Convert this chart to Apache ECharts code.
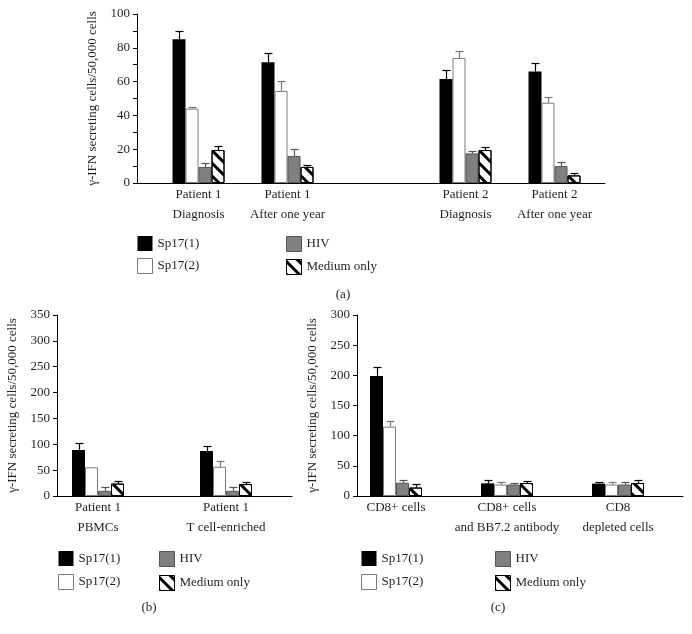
<!DOCTYPE html>
<html>
<head>
<meta charset="utf-8">
<script src="https://cdn.jsdelivr.net/npm/echarts@6/dist/echarts.min.js"></script>
<style>
html,body{margin:0;padding:0;background:#fff;}
#chart{width:692px;height:634px;}
</style>
</head>
<body>
<div id="chart"></div>
<script>
// ---------------- data ----------------
const seriesNames = ['Sp17(1)', 'Sp17(2)', 'HIV', 'Medium only'];

// panel (a)
const catsA = ['Patient 1\nDiagnosis', 'Patient 1\nAfter one year', 'Patient 2\nDiagnosis', 'Patient 2\nAfter one year'];
const sp17_1_A = [85, 71.5, 61.5, 66];
const sp17_1_A_err = [5, 5.5, 5.5, 5];
const sp17_2_A = [44, 54.5, 74, 47.5];
const sp17_2_A_err = [1, 6, 4, 3.5];
const hiv_A = [9.5, 16, 17.5, 10];
const hiv_A_err = [2.5, 4, 1.5, 2.5];
const medium_A = [19.5, 9.5, 19.5, 4.5];
const medium_A_err = [2.5, 1, 2, 1.5];
const ticksA = {max: 100, interval: 10, labelEvery: 20};

// panel (b)
const catsB = ['Patient 1\nPBMCs', 'Patient 1\nT cell-enriched'];
const sp17_1_B = [89, 87];
const sp17_1_B_err = [14, 9];
const sp17_2_B = [55.5, 56.5];
const sp17_2_B_err = [0, 11];
const hiv_B = [10, 10];
const hiv_B_err = [8, 7];
const medium_B = [24, 23];
const medium_B_err = [5.5, 4.5];
const ticksB = {max: 350, interval: 50, labelEvery: 50};

// panel (c)
const catsC = ['CD8+ cells', 'CD8+ cells\nand BB7.2 antibody', 'CD8\ndepleted cells'];
const sp17_1_C = [199, 21, 20.5];
const sp17_1_C_err = [15, 5.5, 2.5];
const sp17_2_C = [115, 19, 19];
const sp17_2_C_err = [10, 4, 4];
const hiv_C = [22, 19, 19];
const hiv_C_err = [4.5, 3.3, 4];
const medium_C = [14, 21.5, 21.5];
const medium_C_err = [6.5, 3.5, 4.5];
const ticksC = {max: 300, interval: 50, labelEvery: 50};

const yTitle = 'γ-IFN secreting cells/50,000 cells';

// ---------------- styles / layout ----------------
const FONT = '"Liberation Serif", "DejaVu Serif", serif';
const TXT = '#231f20';
const BAR_W = 13;
const hatch = {
  symbol: 'rect', symbolSize: 1, dashArrayX: [1, 0], dashArrayY: [2.2, 5.5],
  rotation: Math.PI / 4, color: '#000'
};
const barStyles = [
  {color: '#000', borderColor: '#000', borderWidth: 0},
  {color: '#fff', borderColor: '#7a7a7a', borderWidth: 1},
  {color: '#808080', borderColor: '#555', borderWidth: 1},
  {color: '#fff', borderColor: '#000', borderWidth: 1, decal: hatch}
];
const errColors = ['#000', '#777', '#555', '#000'];

function withGap(arr, at, filler) {
  const a = arr.slice();
  if (at != null) a.splice(at, 0, filler);
  return a;
}

const panels = [
  {
    cats: catsA, gap: 2, ticks: ticksA,
    vals: [sp17_1_A, sp17_2_A, hiv_A, medium_A],
    errs: [sp17_1_A_err, sp17_2_A_err, hiv_A_err, medium_A_err],
    frame: {left: 137, top: 14, width: 468, height: 169},
    bars: {left: 154, top: 14, width: 445, height: 169},
    legendTop: 236, legendGap: 7, legendLeft: [137, 286]
  },
  {
    cats: catsB, gap: null, ticks: ticksB,
    vals: [sp17_1_B, sp17_2_B, hiv_B, medium_B],
    errs: [sp17_1_B_err, sp17_2_B_err, hiv_B_err, medium_B_err],
    frame: {left: 57, top: 315, width: 235, height: 181},
    bars: {left: 34, top: 315, width: 256, height: 181},
    legendTop: 551, legendGap: 8, legendLeft: [58, 159]
  },
  {
    cats: catsC, gap: null, ticks: ticksC,
    vals: [sp17_1_C, sp17_2_C, hiv_C, medium_C],
    errs: [sp17_1_C_err, sp17_2_C_err, hiv_C_err, medium_C_err],
    frame: {left: 357, top: 315, width: 326, height: 181},
    bars: {left: 340.5, top: 315, width: 333, height: 181},
    legendTop: 551, legendGap: 8, legendLeft: [361, 495]
  }
];

const captions = [
  {text: '(a)', x: 343, y: 295},
  {text: '(b)', x: 149, y: 608},
  {text: '(c)', x: 498, y: 608}
];

function errRender(offset, color) {
  return function (params, api) {
    const i = api.value(0), v = api.value(1), e = api.value(2);
    if (!(e > 0)) return null;
    const p0 = api.coord([i, v]);
    const p1 = api.coord([i, v + e]);
    const x = Math.round(p0[0] + offset) + 0.5;
    const yt = Math.round(p1[1]) + 0.5;
    return {
      type: 'group',
      children: [
        {type: 'line', shape: {x1: x, y1: p0[1], x2: x, y2: yt}, style: {stroke: color, lineWidth: 1.2}},
        {type: 'line', shape: {x1: x - 4, y1: yt, x2: x + 4, y2: yt}, style: {stroke: color, lineWidth: 1.2}}
      ]
    };
  };
}

const grid = [], xAxis = [], yAxis = [], series = [], legend = [];
const textStyle = {fontFamily: FONT, fontSize: 13, color: TXT};

panels.forEach(function (p, pi) {
  const fi = grid.length;
  grid.push(Object.assign({outerBoundsMode: 'none', containLabel: false}, p.frame));
  const bi = grid.length;
  grid.push(Object.assign({outerBoundsMode: 'none', containLabel: false}, p.bars));

  // frame axes (visible y axis + x axis line)
  xAxis.push({
    type: 'value', gridIndex: fi, min: 0, max: 1,
    axisLine: {show: true, lineStyle: {color: '#000', width: 1}},
    axisTick: {show: false}, axisLabel: {show: false}, splitLine: {show: false}
  });
  yAxis.push({
    type: 'value', gridIndex: fi, min: 0, max: p.ticks.max, interval: p.ticks.interval,
    axisLine: {show: true, lineStyle: {color: '#000', width: 1}},
    axisTick: {show: true, length: 4, lineStyle: {color: '#000', width: 1}},
    axisLabel: Object.assign({
      margin: 7,
      formatter: function (v) { return v % p.ticks.labelEvery === 0 ? String(v) : ''; }
    }, textStyle),
    splitLine: {show: false},
    name: yTitle, nameLocation: 'middle', nameGap: 38,
    nameTextStyle: textStyle
  });

  // bar axes
  const cats = withGap(p.cats, p.gap, '');
  xAxis.push({
    type: 'category', gridIndex: bi, data: cats,
    axisLine: {show: false}, axisTick: {show: false}, splitLine: {show: false},
    axisLabel: Object.assign({interval: 0, margin: 2, lineHeight: 20}, textStyle)
  });
  const bxi = xAxis.length - 1;
  yAxis.push({type: 'value', gridIndex: bi, min: 0, max: p.ticks.max, show: false});
  const byi = yAxis.length - 1;

  p.vals.forEach(function (vals, k) {
    const v = withGap(vals, p.gap, '-');
    series.push({
      type: 'bar', name: seriesNames[k], xAxisIndex: bxi, yAxisIndex: byi,
      data: v, barWidth: BAR_W, barGap: '0%', itemStyle: barStyles[k],
      emphasis: {disabled: true}, silent: true
    });
  });
  p.vals.forEach(function (vals, k) {
    const v = withGap(vals, p.gap, null);
    const e = withGap(p.errs[k], p.gap, null);
    const data = [];
    v.forEach(function (val, i) { if (val != null) data.push([i, val, e[i]]); });
    series.push({
      type: 'custom', name: 'err' + pi + '_' + k, xAxisIndex: bxi, yAxisIndex: byi,
      data: data, encode: {x: 0, y: 1}, renderItem: errRender((k - 1.5) * BAR_W, errColors[k]),
      z: 5, silent: true
    });
  });

  [[0, 1], [2, 3]].forEach(function (pair, li) {
    legend.push({
      orient: 'vertical', left: p.legendLeft[li], top: p.legendTop, padding: 0,
      itemWidth: 15, itemHeight: 15, itemGap: p.legendGap, icon: 'rect',
      selectedMode: false, textStyle: textStyle,
      data: pair.map(function (k) {
        return {name: seriesNames[k], itemStyle: barStyles[k]};
      })
    });
  });
});

const chart = echarts.init(document.getElementById('chart'), null, {renderer: 'canvas'});
chart.setOption({
  animation: false,
  backgroundColor: '#fff',
  textStyle: {fontFamily: FONT},
  grid: grid, xAxis: xAxis, yAxis: yAxis, series: series, legend: legend,
  graphic: captions.map(function (c) {
    return {type: 'text', x: c.x, y: c.y, style: {text: c.text, align: 'center', verticalAlign: 'middle',
      font: '13px ' + FONT, fill: TXT}};
  })
});
</script>
</body>
</html>
